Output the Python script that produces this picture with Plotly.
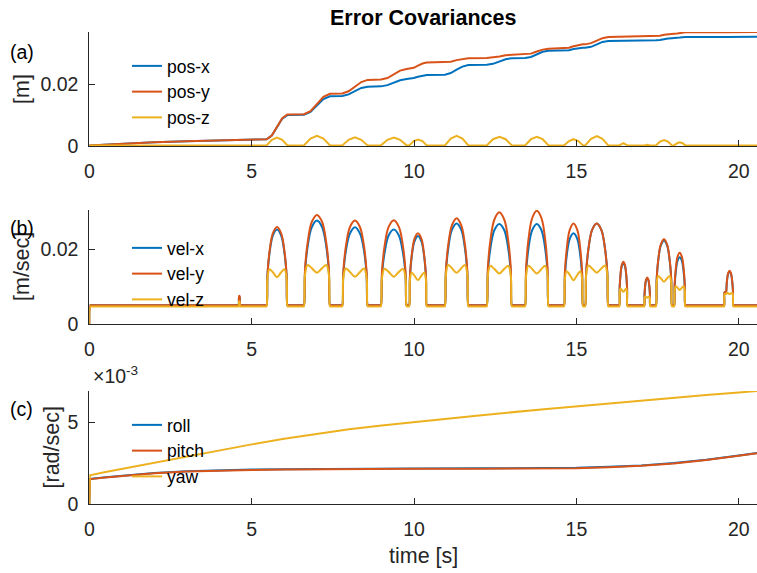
import plotly.graph_objects as go

# ---------------- data ----------------
# panel (a): position error covariance [m]
t_pos = [0, 0.5, 1, 2, 3, 4, 5.0,
         5.46, 5.62, 5.78, 5.94, 6.10,
         6.61, 6.81, 7.01, 7.21, 7.41,
         7.79, 7.985, 8.18, 8.375, 8.57,
         8.98, 9.18, 9.38, 9.57, 9.77,
         9.85, 9.99, 10.12, 10.26, 10.39,
         10.95, 11.13, 11.31, 11.49, 11.67,
         12.24, 12.43, 12.63, 12.82, 13.01,
         13.42, 13.60, 13.78, 13.96, 14.14,
         14.62, 14.77, 14.91, 15.06, 15.20,
         15.27, 15.45, 15.63, 15.80, 15.98,
         16.32, 16.445, 16.57,
         17.09, 17.18, 17.27,
         17.45, 17.57, 17.70, 17.82, 17.94,
         18.01, 18.10, 18.18, 18.27, 18.35,
         19.60, 19.72, 19.83,
         20.56]
pos_x = [.0002, .0005, .0008, .0012, .0015, .0018, .0021,
         .0022, .0034, .0061, .0088, .0100,
         .0101, .0110, .0131, .0152, .0161,
         .0162, .0167, .0177, .0188, .0192,
         .0193, .0197, .0205, .0213, .0217,
         .0218, .0220, .0224, .0228, .0230,
         .0231, .0236, .0247, .0257, .0262,
         .0263, .0266, .0274, .0281, .0284,
         .0285, .0288, .0297, .0305, .0308,
         .0309, .0310, .0314, .0317, .0318,
         .0318, .0321, .0329, .0337, .0340,
         .0340, .0341, .0341,
         .0341, .0341, .0342,
         .0342, .0343, .0346, .0348, .0349,
         .0349, .0350, .0351, .0352, .0353,
         .0353, .0353, .0353,
         .0354]
pos_y = [.0002, .0005, .0008, .0012, .0015, .0018, .0021,
         .0022, .0034, .0062, .0090, .0102,
         .0103, .0113, .0136, .0159, .0169,
         .0170, .0177, .0192, .0207, .0214,
         .0215, .0220, .0232, .0244, .0249,
         .0250, .0253, .0260, .0267, .0270,
         .0271, .0273, .0278, .0282, .0284,
         .0285, .0287, .0290, .0294, .0295,
         .0296, .0299, .0306, .0312, .0315,
         .0316, .0318, .0323, .0327, .0329,
         .0329, .0333, .0341, .0349, .0353,
         .0354, .0354, .0355,
         .0355, .0355, .0356,
         .0356, .0357, .0360, .0362, .0363,
         .0363, .0364, .0366, .0367, .0368,
         .0368, .0368, .0368,
         .0369]
pos_z = [.0002, .0002, .0002, .0002, .0002, .0002, .0002,
         .0002, .0020, .0027, .0020, .0002,
         .0002, .0024, .0033, .0024, .0002,
         .0002, .0020, .0028, .0020, .0002,
         .0002, .0020, .0027, .0020, .0002,
         .0002, .0016, .0021, .0016, .0002,
         .0002, .0024, .0033, .0024, .0002,
         .0002, .0022, .0030, .0022, .0002,
         .0002, .0022, .0030, .0022, .0002,
         .0002, .0016, .0022, .0016, .0002,
         .0002, .0023, .0032, .0023, .0002,
         .0002, .0009, .0002,
         .0002, .0004, .0002,
         .0002, .0014, .0019, .0014, .0002,
         .0002, .0009, .0012, .0009, .0002,
         .0002, .0004, .0002,
         .0002]

# panel (b): velocity error covariance [m/sec]; one row per segment / arch
t_vel_rows = [
    [0, 0.03, 0.06, 4.585, 4.60, 4.612, 4.628, 4.64, 4.655],
    [5.445, 5.46, 5.486, 5.55, 5.652, 5.78, 5.908, 6.01, 6.074, 6.10, 6.115],
    [6.595, 6.61, 6.642, 6.722, 6.85, 7.01, 7.17, 7.298, 7.378, 7.41, 7.425],
    [7.775, 7.79, 7.821, 7.899, 8.024, 8.18, 8.336, 8.461, 8.539, 8.57, 8.585],
    [8.965, 8.98, 9.012, 9.091, 9.217, 9.375, 9.533, 9.659, 9.738, 9.77, 9.785],
    [9.835, 9.85, 9.872, 9.926, 10.012, 10.12, 10.228, 10.314, 10.368, 10.39, 10.405],
    [10.935, 10.95, 10.979, 11.051, 11.166, 11.31, 11.454, 11.569, 11.641, 11.67, 11.685],
    [12.225, 12.24, 12.271, 12.348, 12.471, 12.625, 12.779, 12.902, 12.979, 13.01, 13.025],
    [13.405, 13.42, 13.449, 13.521, 13.636, 13.78, 13.924, 14.039, 14.111, 14.14, 14.155],
    [14.605, 14.62, 14.643, 14.701, 14.794, 14.91, 15.026, 15.119, 15.177, 15.20, 15.215],
    [15.255, 15.27, 15.298, 15.369, 15.483, 15.625, 15.767, 15.881, 15.952, 15.98, 15.995],
    [16.305, 16.32, 16.33, 16.355, 16.395, 16.445, 16.495, 16.535, 16.56, 16.57, 16.585],
    [17.075, 17.09, 17.097, 17.115, 17.144, 17.18, 17.216, 17.245, 17.263, 17.27, 17.285],
    [17.435, 17.45, 17.47, 17.519, 17.597, 17.695, 17.793, 17.871, 17.92, 17.94, 17.955],
    [17.995, 18.01, 18.024, 18.058, 18.112, 18.18, 18.248, 18.302, 18.336, 18.35, 18.365],
    [19.535, 19.55, 19.56, 19.59, 19.60, 19.609, 19.632, 19.669, 19.715, 19.761, 19.798, 19.821, 19.83, 19.845],
    [20.56],
]
vel_x_rows = [
    [0, .0050, .0050, .0050, .0050, .0073, .0073, .0050, .0050],
    [.0050, .0050, .0129, .0189, .0236, .0252, .0236, .0189, .0129, .0050, .0050],
    [.0050, .0050, .0138, .0206, .0258, .0276, .0258, .0206, .0138, .0050, .0050],
    [.0050, .0050, .0131, .0194, .0241, .0258, .0241, .0194, .0131, .0050, .0050],
    [.0050, .0050, .0129, .0189, .0236, .0252, .0236, .0189, .0129, .0050, .0050],
    [.0050, .0050, .0122, .0178, .0220, .0235, .0220, .0178, .0122, .0050, .0050],
    [.0050, .0050, .0135, .0200, .0251, .0268, .0251, .0200, .0135, .0050, .0050],
    [.0050, .0050, .0135, .0200, .0250, .0267, .0250, .0200, .0135, .0050, .0050],
    [.0050, .0050, .0135, .0200, .0250, .0267, .0250, .0200, .0135, .0050, .0050],
    [.0050, .0050, .0125, .0182, .0227, .0242, .0227, .0182, .0125, .0050, .0050],
    [.0050, .0050, .0135, .0200, .0251, .0268, .0251, .0200, .0135, .0050, .0050],
    [.0050, .0050, .0094, .0128, .0154, .0163, .0154, .0128, .0094, .0050, .0050],
    [.0050, .0050, .0078, .0100, .0117, .0122, .0117, .0100, .0078, .0050, .0050],
    [.0050, .0050, .0117, .0169, .0209, .0223, .0209, .0169, .0117, .0050, .0050],
    [.0050, .0050, .0100, .0138, .0168, .0178, .0168, .0138, .0100, .0050, .0050],
    [.0050, .0050, .0084, .0084, .0084, .0085, .0112, .0133, .0140, .0133, .0112, .0085, .0050, .0050],
    [.0050],
]
vel_y_rows = [
    [0, .0050, .0050, .0050, .0050, .0075, .0075, .0050, .0050],
    [.0050, .0050, .0132, .0194, .0242, .0259, .0242, .0194, .0132, .0050, .0050],
    [.0050, .0050, .0144, .0216, .0272, .0291, .0272, .0216, .0144, .0050, .0050],
    [.0050, .0050, .0138, .0206, .0258, .0276, .0258, .0206, .0138, .0050, .0050],
    [.0050, .0050, .0139, .0207, .0259, .0277, .0259, .0207, .0139, .0050, .0050],
    [.0050, .0050, .0125, .0182, .0227, .0242, .0227, .0182, .0125, .0050, .0050],
    [.0050, .0050, .0140, .0210, .0263, .0282, .0263, .0210, .0140, .0050, .0050],
    [.0050, .0050, .0147, .0221, .0278, .0298, .0278, .0221, .0147, .0050, .0050],
    [.0050, .0050, .0148, .0224, .0282, .0302, .0282, .0224, .0148, .0050, .0050],
    [.0050, .0050, .0135, .0200, .0251, .0268, .0251, .0200, .0135, .0050, .0050],
    [.0050, .0050, .0135, .0200, .0251, .0268, .0251, .0200, .0135, .0050, .0050],
    [.0050, .0050, .0095, .0130, .0157, .0166, .0157, .0130, .0095, .0050, .0050],
    [.0050, .0050, .0079, .0101, .0118, .0124, .0118, .0101, .0079, .0050, .0050],
    [.0050, .0050, .0119, .0171, .0212, .0226, .0212, .0171, .0119, .0050, .0050],
    [.0050, .0050, .0105, .0147, .0179, .0190, .0179, .0147, .0105, .0050, .0050],
    [.0050, .0050, .0085, .0085, .0085, .0086, .0113, .0135, .0142, .0135, .0113, .0086, .0050, .0050],
    [.0050],
]
vel_z_rows = [
    [0, .0047, .0047, .0047, .0047, .0060, .0060, .0047, .0047],
    [.0047, .0047, .0121, .0146, .0138, .0125, .0138, .0146, .0121, .0047, .0047],
    [.0047, .0047, .0130, .0157, .0149, .0137, .0149, .0157, .0130, .0047, .0047],
    [.0047, .0047, .0123, .0148, .0139, .0126, .0139, .0148, .0123, .0047, .0047],
    [.0047, .0047, .0122, .0147, .0139, .0126, .0139, .0147, .0122, .0047, .0047],
    [.0047, .0047, .0115, .0137, .0129, .0117, .0129, .0137, .0115, .0047, .0047],
    [.0047, .0047, .0130, .0157, .0149, .0137, .0149, .0157, .0130, .0047, .0047],
    [.0047, .0047, .0128, .0155, .0147, .0135, .0147, .0155, .0128, .0047, .0047],
    [.0047, .0047, .0128, .0155, .0147, .0135, .0147, .0155, .0128, .0047, .0047],
    [.0047, .0047, .0118, .0141, .0131, .0117, .0131, .0141, .0118, .0047, .0047],
    [.0047, .0047, .0129, .0156, .0148, .0137, .0148, .0156, .0129, .0047, .0047],
    [.0047, .0047, .0083, .0095, .0091, .0086, .0091, .0095, .0083, .0047, .0047],
    [.0047, .0047, .0067, .0073, .0072, .0070, .0072, .0073, .0067, .0047, .0047],
    [.0047, .0047, .0108, .0128, .0122, .0113, .0122, .0128, .0108, .0047, .0047],
    [.0047, .0047, .0088, .0101, .0097, .0091, .0097, .0101, .0088, .0047, .0047],
    [.0047, .0047, .0080, .0080, .0080, .0080, .0083, .0082, .0080, .0082, .0083, .0075, .0047, .0047],
    [.0047],
]
t_vel = sum(t_vel_rows, [])
vel_x = sum(vel_x_rows, [])
vel_y = sum(vel_y_rows, [])
vel_z = sum(vel_z_rows, [])

# panel (c): attitude error covariance [rad/sec], in units of 1e-3
t_att = [0, 0.02, 0.5, 1, 2, 3, 4, 5, 6, 7, 8, 9, 10, 12, 14, 15, 16, 17, 18, 19, 20, 20.56]
roll = [0, 1.53, 1.64, 1.74, 1.90, 2.00, 2.06, 2.10, 2.12, 2.14, 2.15, 2.16, 2.17, 2.18, 2.19,
        2.21, 2.27, 2.35, 2.50, 2.70, 2.96, 3.12]
pitch = [0, 1.52, 1.62, 1.72, 1.88, 1.98, 2.04, 2.08, 2.10, 2.12, 2.13, 2.14, 2.15, 2.16, 2.17,
         2.19, 2.25, 2.33, 2.48, 2.68, 2.94, 3.10]
yaw = [0, 1.75, 1.95, 2.14, 2.53, 2.91, 3.28, 3.64, 3.98, 4.29, 4.56, 4.80, 5.01, 5.41, 5.79,
       5.97, 6.15, 6.32, 6.49, 6.65, 6.81, 6.90]

x_ticks = [0, 5, 10, 15, 20]
names_pos = ["pos-x", "pos-y", "pos-z"]
names_vel = ["vel-x", "vel-y", "vel-z"]
names_att = ["roll", "pitch", "yaw"]

# ---------------- figure ----------------
W, H = 757, 573
colors = ["#0072BD", "#D95319", "#EDB120"]
FONT = "Liberation Sans, Arial, Helvetica, sans-serif"
TXT = "#262626"

fig = go.Figure()
panels = [
    (t_pos, [pos_x, pos_y, pos_z], names_pos, "x", "y", "legend", "linear"),
    (t_vel, [vel_x, vel_y, vel_z], names_vel, "x2", "y2", "legend2", "spline"),
    (t_att, [roll, pitch, yaw], names_att, "x3", "y3", "legend3", "linear"),
]
for t, series, names, xa, ya, lg, shp in panels:
    for s, n, c in zip(series, names, colors):
        fig.add_trace(go.Scatter(x=t, y=s, name=n, mode="lines",
                                 line=dict(color=c, width=2, shape=shp),
                                 xaxis=xa, yaxis=ya, legend=lg))

def px_y(p):
    return 1 - p / H

def px_x(p):
    return p / W

x0 = 89.3 / W
ax_common = dict(showline=True, linecolor=TXT, linewidth=1, ticks="inside", ticklen=6,
                 tickcolor=TXT, tickwidth=1, showgrid=False, zeroline=False, mirror=False,
                 tickfont=dict(family=FONT, size=19.5, color=TXT), fixedrange=True,
                 automargin=False)

doms = [(146, 32), (324, 210), (504, 391)]
yranges = [[0, 0.0369], [0, 0.0304], [0, 6.9]]
yticks = [([0, 0.02], ["0", "0.02"]), ([0, 0.02], ["0", "0.02"]), ([0, 5], ["0", "5"])]
layout = {}
for i in range(3):
    sfx = "" if i == 0 else str(i + 1)
    b, t = doms[i]
    layout["xaxis" + sfx] = dict(ax_common, domain=[x0, 1], anchor="y" + sfx,
                                 range=[0, 20.56], tickvals=x_ticks,
                                 ticktext=[str(v) for v in x_ticks], ticklabelstandoff=8)
    layout["yaxis" + sfx] = dict(ax_common, domain=[px_y(b), px_y(t)], anchor="x" + sfx,
                                 range=yranges[i], tickvals=yticks[i][0],
                                 ticktext=yticks[i][1], ticklabelstandoff=6)

leg_common = dict(font=dict(family=FONT, size=17.5, color="#000000"),
                  bgcolor="rgba(0,0,0,0)", borderwidth=0, xanchor="left",
                  yanchor="top", tracegroupgap=0)
layout["legend"] = dict(leg_common, x=px_x(127), y=px_y(48))
layout["legend2"] = dict(leg_common, x=px_x(127), y=px_y(230))
layout["legend3"] = dict(leg_common, x=px_x(127), y=px_y(407))

ann = []
def A(text, x, y, size, angle=0, xa="center", ya="middle", color="#000000"):
    ann.append(dict(text=text, x=px_x(x), y=px_y(y), xref="paper", yref="paper",
                    showarrow=False, textangle=angle, xanchor=xa, yanchor=ya,
                    font=dict(family=FONT, size=size, color=color)))

A("<b>Error Covariances</b>", 423, 17.5, 21.5)
A("time [s]", 423, 556, 21.5, color=TXT)
A("[m]", 22, 89, 21.5, angle=-90, color=TXT)
A("[m/sec]", 22, 267, 21.5, angle=-90, color=TXT)
A("[rad/sec]", 51, 447.5, 21.5, angle=-90, color=TXT)
A("(a)", 21.7, 51.5, 19.5)
A("(b)", 22, 228, 19.5)
A("(c)", 21.7, 408.5, 19.5)
A("×10<sup>-3</sup>", 91, 389, 19.5, xa="left", ya="bottom", color=TXT)

fig.update_layout(width=W, height=H, margin=dict(l=0, r=0, t=0, b=0),
                  paper_bgcolor="white", plot_bgcolor="white", showlegend=True,
                  annotations=ann, **layout)

fig.write_html("out.html", config={"displayModeBar": False},
               post_script="document.body.style.margin='0';document.body.style.padding='0';"
                           "document.body.style.overflow='hidden';")
